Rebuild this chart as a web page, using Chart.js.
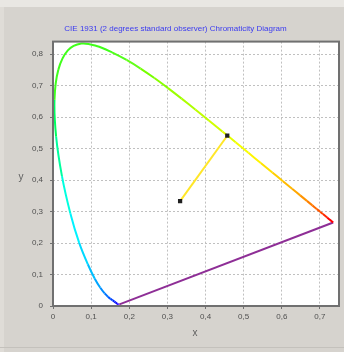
<!DOCTYPE html>
<html>
<head>
<meta charset="utf-8">
<script src="https://cdn.jsdelivr.net/npm/chart.js@4/dist/chart.umd.min.js"></script>
<style>
	html, body { margin: 0; padding: 0; background: #d6d3ce; }
	#cie { display: block; }
</style>
</head>
<body>
<canvas id="cie" width="344" height="352"></canvas>
<script>
// CIE 1931 spectral locus, 5 nm steps (nm, x, y)
var comprimentos = [380, 390, 400, 410, 420, 430, 440, 445, 450, 455, 460, 465, 470, 475, 480, 485, 490, 495, 500, 505, 510, 515, 520, 525, 530, 535, 540, 545, 550, 555, 560, 565, 570, 575, 580, 585, 590, 595, 600, 605, 610, 615, 620, 625, 630, 640, 650, 660, 680, 700];
var locusX = [0.1741, 0.1738, 0.1733, 0.1726, 0.1714, 0.1689, 0.1644, 0.1611, 0.1566, 0.1510, 0.1440, 0.1355, 0.1241, 0.1096, 0.0913, 0.0687, 0.0454, 0.0235, 0.0082, 0.0039, 0.0139, 0.0389, 0.0743, 0.1142, 0.1547, 0.1929, 0.2296, 0.2658, 0.3016, 0.3373, 0.3731, 0.4087, 0.4441, 0.4788, 0.5125, 0.5448, 0.5752, 0.6029, 0.6270, 0.6482, 0.6658, 0.6801, 0.6915, 0.7006, 0.7079, 0.7190, 0.7260, 0.7300, 0.7334, 0.7347];
var locusY = [0.0050, 0.0049, 0.0048, 0.0048, 0.0051, 0.0069, 0.0109, 0.0138, 0.0177, 0.0227, 0.0297, 0.0399, 0.0578, 0.0868, 0.1327, 0.2007, 0.2950, 0.4127, 0.5384, 0.6548, 0.7502, 0.8120, 0.8338, 0.8262, 0.8059, 0.7816, 0.7543, 0.7243, 0.6923, 0.6589, 0.6245, 0.5896, 0.5547, 0.5202, 0.4866, 0.4544, 0.4242, 0.3965, 0.3725, 0.3514, 0.3340, 0.3197, 0.3083, 0.2993, 0.2920, 0.2809, 0.2740, 0.2700, 0.2666, 0.2653];

var pontoBranco = [0.3333, 0.3333];
var pontoDominante = [0.457, 0.541];

var ticksX = [0, 0.1, 0.2, 0.3, 0.4, 0.5, 0.6, 0.7];
var ticksY = [0, 0.1, 0.2, 0.3, 0.4, 0.5, 0.6, 0.7, 0.8];

var titulo = 'CIE 1931 (2 degrees standard observer) Chromaticity Diagram';

function corDoComprimento(w) {
	let r = 0, g = 0, b = 0;
	if (w < 440) { r = (440 - w) / 60 * 0.6; b = 1; }
	else if (w < 490) { g = (w - 440) / 50; b = 1; }
	else if (w < 510) { g = 1; b = (510 - w) / 20; }
	else if (w < 580) { r = (w - 510) / 70; g = 1; }
	else if (w < 645) { r = 1; g = (645 - w) / 65; }
	else { r = 1; }
	if (w >= 505 && w < 540) { r = Math.max(r, 0.25); b = Math.max(b, 0.1); }
	return 'rgb(' + Math.round(r * 255) + ',' + Math.round(g * 255) + ',' + Math.round(b * 255) + ')';
}

function pontosLocus() {
	let pts = [];
	for (let i = 0; i < locusX.length; i++) {
		pts.push({ x: locusX[i], y: locusY[i] });
	}
	return pts;
}

function fmt(v) {
	if (v === 0) return '0';
	return v.toFixed(1).replace('.', ',');
}

var fundo = {
	id: 'fundo',
	beforeDraw: function (chart) {
		let c = chart.ctx;
		c.save();
		c.fillStyle = '#d6d3ce';
		c.fillRect(0, 0, chart.width, chart.height);
		c.fillStyle = '#e9e7e3';
		c.fillRect(0, 0, chart.width, 7);
		c.fillStyle = '#dfdcd7';
		c.fillRect(0, 7, 4, chart.height - 7);
		c.fillStyle = '#c4c1bc';
		c.fillRect(0, 347, chart.width, 1);
		let a = chart.chartArea;
		c.fillStyle = '#ffffff';
		c.fillRect(a.left, a.top, a.right - a.left, a.bottom - a.top);
		c.restore();
	},
	afterDraw: function (chart) {
		let c = chart.ctx;
		let a = chart.chartArea;
		c.save();
		c.strokeStyle = '#707070';
		c.lineWidth = 2;
		c.strokeRect(a.left, a.top, a.right - a.left, a.bottom - a.top);
		c.fillStyle = '#606060';
		c.font = '10px "Liberation Sans", Arial, sans-serif';
		c.textAlign = 'center';
		c.textBaseline = 'middle';
		c.fillText('y', 21, 177);
		c.fillText('x', 195, 333);
		c.restore();
	}
};

var canvasCie = document.getElementById('cie');

var grafico = new Chart(canvasCie, {
	type: 'scatter',
	data: {
		datasets: [{
			data: [{ x: locusX[locusX.length - 1], y: locusY[locusY.length - 1] }, { x: locusX[0], y: locusY[0] }],
			showLine: true,
			borderColor: '#8e2e96',
			borderWidth: 2,
			pointRadius: 0,
			order: 2
		}, {
			data: pontosLocus(),
			showLine: true,
			borderWidth: 2,
			pointRadius: 0,
			tension: 0.35,
			order: 1,
			segment: {
				borderColor: function (ctx) {
					return corDoComprimento((comprimentos[ctx.p0DataIndex] + comprimentos[ctx.p1DataIndex]) / 2);
				}
			}
		}, {
			data: [{ x: pontoBranco[0], y: pontoBranco[1] }, { x: pontoDominante[0], y: pontoDominante[1] }],
			showLine: true,
			borderColor: '#ffe628',
			borderWidth: 2,
			pointRadius: 3,
			pointStyle: 'rect',
			pointBackgroundColor: '#202020',
			pointBorderColor: '#202020',
			pointBorderWidth: 0,
			order: 0
		}]
	},
	plugins: [fundo],
	options: {
		responsive: false,
		animation: false,
		layout: { padding: { left: 12, right: 5, top: 0, bottom: 0 } },
		plugins: {
			legend: { display: false },
			tooltip: { enabled: false },
			title: {
				display: true,
				text: titulo,
				color: '#3a3af0',
				font: { size: 8, family: '"Liberation Sans", Arial, sans-serif', weight: 'normal' },
				padding: { top: 24, bottom: 8 }
			}
		},
		scales: {
			x: {
				type: 'linear',
				min: 0,
				max: 0.75,
				afterFit: function (s) { s.height = 46; },
				afterBuildTicks: function (s) { s.ticks = ticksX.map(function (v) { return { value: v }; }); },
				ticks: {
					includeBounds: false,
					padding: 3,
					color: '#505050',
					font: { size: 8, family: '"Liberation Sans", Arial, sans-serif' },
					callback: fmt,
					maxRotation: 0
				},
				grid: { color: '#c0c0c0', tickLength: 3, tickColor: '#707070' },
				border: { display: false, dash: [2, 2] }
			},
			y: {
				type: 'linear',
				min: 0,
				max: 0.84,
				afterFit: function (s) { s.width = 41; },
				afterBuildTicks: function (s) { s.ticks = ticksY.map(function (v) { return { value: v }; }); },
				ticks: {
					includeBounds: false,
					padding: 7,
					color: '#505050',
					font: { size: 8, family: '"Liberation Sans", Arial, sans-serif' },
					callback: fmt
				},
				grid: { color: '#c0c0c0', tickLength: 3, tickColor: '#707070' },
				border: { display: false, dash: [2, 2] }
			}
		}
	}
});
</script>
</body>
</html>
